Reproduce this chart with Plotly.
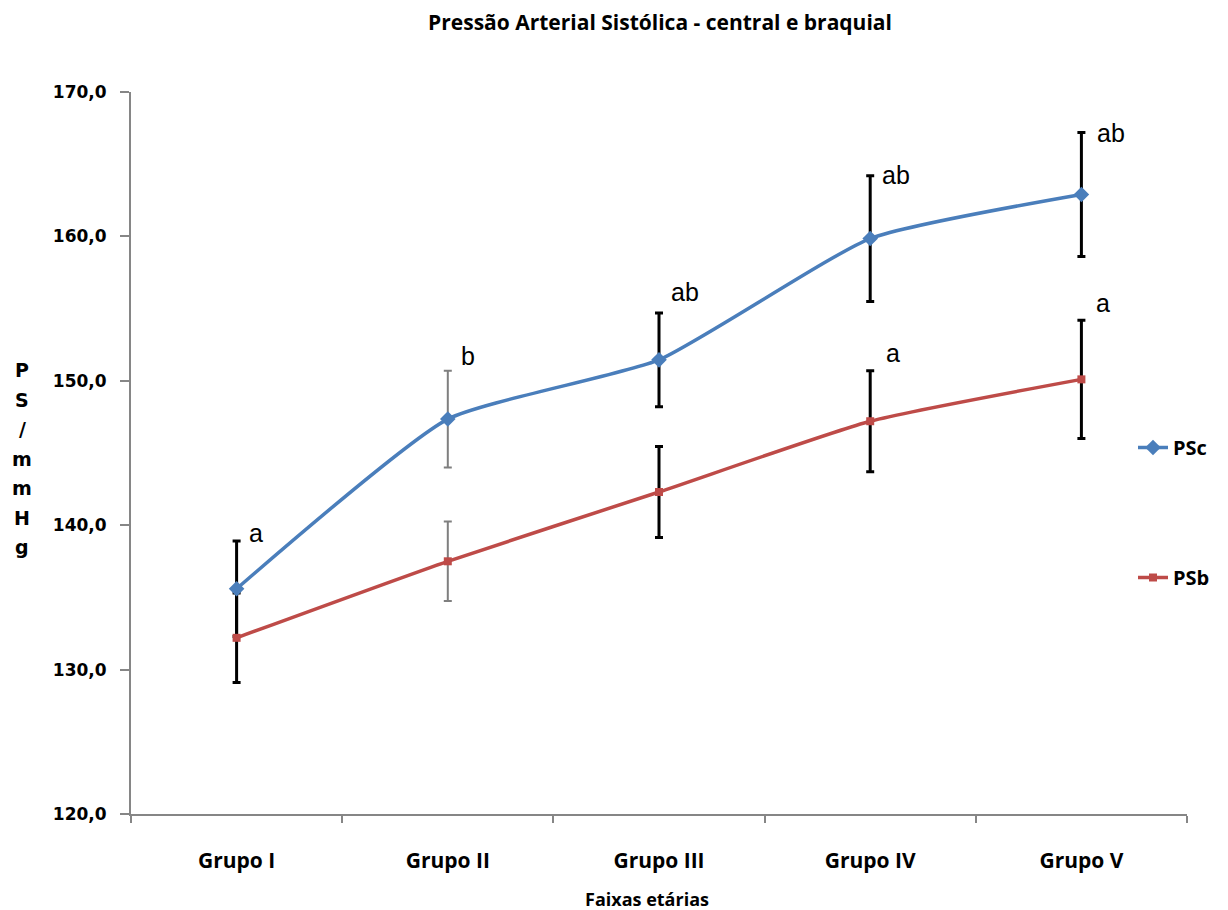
import plotly.graph_objects as go

# ---------------- data ----------------
categories = ["Grupo I", "Grupo II", "Grupo III", "Grupo IV", "Grupo V"]
psc_mean = [135.6, 147.35, 151.45, 159.85, 162.9]
psc_err = [3.3, 3.35, 3.25, 4.35, 4.3]
psb_mean = [132.2, 137.5, 142.3, 147.2, 150.1]
psb_err = [3.1, 2.75, 3.15, 3.5, 4.1]
psc_letters = ["a", "b", "ab", "ab", "ab"]
psb_letters = ["", "", "", "a", "a"]
y_ticks = [120, 130, 140, 150, 160, 170]
y_title = "PS/mmHg"
gray_err_group = "Grupo II"

# ---------------- layout geometry ----------------
W, H = 1228, 910
L, R, T, B = 131, 1187, 92, 814
PW, PH = R - L, B - T

def px_x(p):
    return (p - L) / PW

def px_y(p):
    return (B - p) / PH

BLUE = "#4A7EBB"
RED = "#BE4B48"

fig = go.Figure()

# error bars (drawn underneath the lines)
for mean, err in [(psc_mean, psc_err), (psb_mean, psb_err)]:
    for grp_gray in (False, True):
        idx = [i for i, c in enumerate(categories) if (c == gray_err_group) == grp_gray]
        fig.add_trace(go.Scatter(
            x=[categories[i] for i in idx],
            y=[mean[i] for i in idx],
            mode="markers",
            marker=dict(size=1, color="rgba(0,0,0,0)"),
            error_y=dict(type="data", array=[err[i] for i in idx], symmetric=True,
                         color="#7F7F7F" if grp_gray else "black",
                         thickness=2 if grp_gray else 3, width=4),
            showlegend=False, hoverinfo="skip",
        ))

fig.add_trace(go.Scatter(
    x=categories, y=psc_mean, mode="lines+markers", name="PSc",
    line=dict(color=BLUE, width=3.5, shape="spline", smoothing=0.5),
    marker=dict(symbol="diamond", size=12, color=BLUE),
    legendgroup="c",
))
fig.add_trace(go.Scatter(
    x=categories, y=psb_mean, mode="lines+markers", name="PSb",
    line=dict(color=RED, width=3.5, shape="spline", smoothing=0.5),
    marker=dict(symbol="square", size=8, color=RED),
    legendgroup="b",
))

annotations = []
# significance letters
c_shift = [(10, 8), (11, 15), (10, 21), (10, 1), (14, -1)]
b_shift = [(10, 0), (10, 0), (10, 0), (14, 18), (13, 17)]
for i, c in enumerate(categories):
    for letters, mean, err, shifts in ((psc_letters, psc_mean, psc_err, c_shift),
                                       (psb_letters, psb_mean, psb_err, b_shift)):
        if letters[i]:
            annotations.append(dict(
                x=c, y=mean[i] + err[i], xref="x", yref="y",
                text=letters[i], showarrow=False,
                xanchor="left", yanchor="middle",
                xshift=shifts[i][0], yshift=shifts[i][1],
                font=dict(family="Liberation Sans", size=25, color="black"),
            ))

# vertical stacked y-axis title
y0, step = 370, 29.5
for k, ch in enumerate(y_title):
    annotations.append(dict(
        x=px_x(22), y=px_y(y0 + k * step), xref="paper", yref="paper",
        text=ch, showarrow=False, xanchor="center", yanchor="middle",
        font=dict(family="DejaVu Sans", size=19, color="black", weight="bold"),
    ))

# x-axis title
annotations.append(dict(
    x=px_x(647), y=px_y(899), xref="paper", yref="paper",
    text="Faixas etárias", showarrow=False, xanchor="center", yanchor="middle",
    font=dict(family="Open Sans", size=18, color="black", weight="bold"),
))

fig.update_layout(
    width=W, height=H,
    margin=dict(l=L, r=W - R, t=T, b=H - B, pad=0),
    paper_bgcolor="white", plot_bgcolor="white",
    separators=",.",
    title=dict(text="Pressão Arterial Sistólica - central e braquial",
               x=660 / W, xanchor="center",
               y=1 - 23 / H, yanchor="middle",
               font=dict(family="Open Sans", size=21, color="black", weight="bold")),
    xaxis=dict(
        type="category", categoryorder="array", categoryarray=categories,
        range=[-0.5, len(categories) - 0.5],
        showline=True, linecolor="#868686", linewidth=2,
        ticks="outside", ticklen=7, tickcolor="#868686", tickwidth=2,
        tickson="boundaries", showgrid=False, zeroline=False,
        ticklabelstandoff=27,
        tickfont=dict(family="Open Sans", size=21, color="black", weight="bold"),
    ),
    yaxis=dict(
        range=[y_ticks[0], y_ticks[-1]], tickvals=y_ticks, tickformat=".1f",
        showline=True, linecolor="#868686", linewidth=2,
        ticks="outside", ticklen=9, tickcolor="#868686", tickwidth=2,
        showgrid=False, zeroline=False, ticklabelstandoff=10,
        tickfont=dict(family="DejaVu Sans", size=17, color="black", weight="bold"),
    ),
    legend=dict(
        x=px_x(1133), y=px_y(428), xanchor="left", yanchor="top",
        bgcolor="rgba(0,0,0,0)", traceorder="grouped", tracegroupgap=101,
        font=dict(family="Open Sans", size=20, color="black", weight="bold"),
        itemwidth=30,
    ),
    annotations=annotations,
    showlegend=True,
)

fig.write_html("out.html", config={"displayModeBar": False},
               post_script="document.body.style.margin='0px';")
